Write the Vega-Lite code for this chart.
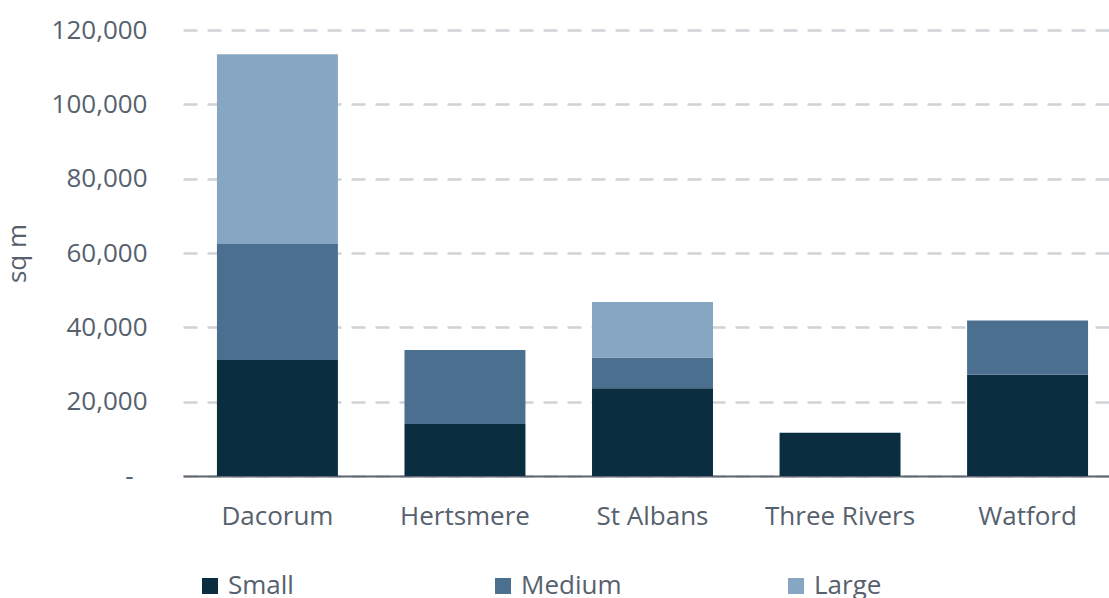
{
  "$schema": "https://vega.github.io/schema/vega-lite/v6.json",
  "autosize": "none",
  "padding": {"left": 183, "top": 30, "right": 0, "bottom": 122},
  "width": 926,
  "height": 446,
  "background": "white",
  "data": {
    "values": [
      {"district": "Dacorum", "size": "Small", "sqm": 31200},
      {"district": "Dacorum", "size": "Medium", "sqm": 31200},
      {"district": "Dacorum", "size": "Large", "sqm": 51100},
      {"district": "Hertsmere", "size": "Small", "sqm": 14000},
      {"district": "Hertsmere", "size": "Medium", "sqm": 19900},
      {"district": "St Albans", "size": "Small", "sqm": 23600},
      {"district": "St Albans", "size": "Medium", "sqm": 8300},
      {"district": "St Albans", "size": "Large", "sqm": 14900},
      {"district": "Three Rivers", "size": "Small", "sqm": 11650},
      {"district": "Watford", "size": "Small", "sqm": 27250},
      {"district": "Watford", "size": "Medium", "sqm": 14600}
    ]
  },
  "config": {
    "font": "Open Sans",
    "view": {"stroke": null},
    "axis": {"labelColor": "#56616d", "titleColor": "#56616d", "labelFontSize": 26, "titleFontSize": 26, "titleFontWeight": "normal", "labelFont": "Open Sans", "titleFont": "Open Sans"}
  },
  "mark": {"type": "bar"},
  "encoding": {
    "x": {
      "field": "district", "type": "nominal",
      "scale": {"range": [0, 939], "paddingInner": 0.355, "paddingOuter": 0.181},
      "axis": {"title": null, "labelAngle": 0, "ticks": false, "domainColor": "#5f6670", "domainWidth": 2, "labelPadding": 27, "labelBaseline": "top", "grid": false}
    },
    "y": {
      "field": "sqm", "type": "quantitative", "aggregate": "sum",
      "scale": {"domain": [0, 120000], "nice": false},
      "axis": {
        "title": "sq m", "values": [0, 20000, 40000, 60000, 80000, 100000, 120000],
        "labelExpr": "datum.value == 0 ? '-' : format(datum.value, ',')",
        "domain": false, "ticks": false,
        "labelPadding": {"condition": {"test": "datum.value == 0", "value": 50}, "value": 36},
        "grid": true, "gridDash": [14, 10], "gridColor": "#d0d4d8", "gridWidth": 2.5,
        "titleX": -153, "titlePadding": 0
      }
    },
    "color": {
      "field": "size", "type": "nominal",
      "sort": ["Small", "Medium", "Large"],
      "scale": {"domain": ["Small", "Medium", "Large"], "range": ["#0a2d40", "#4a6f8f", "#87a6c1"]},
      "legend": {
        "title": null, "orient": "none", "direction": "horizontal", "columns": 3,
        "legendX": 14, "legendY": 543, "gridAlign": "all", "columnPadding": 161,
        "symbolType": "square", "symbolSize": 256, "symbolStrokeWidth": 0, "symbolOffset": 0,
        "labelFontSize": 26, "labelColor": "#56616d", "labelOffset": 5, "labelFont": "Open Sans"
      }
    }
  }
}
